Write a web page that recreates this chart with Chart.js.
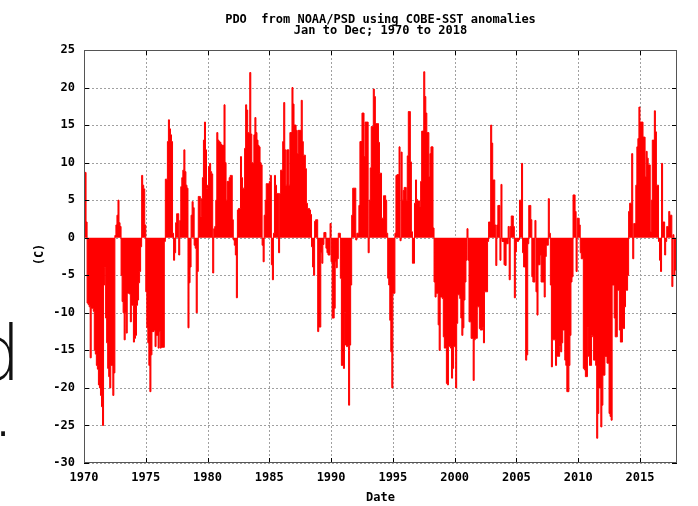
<!DOCTYPE html>
<html>
<head>
<meta charset="utf-8">
<script src="https://cdn.jsdelivr.net/npm/chart.js@4/dist/chart.umd.min.js"></script>
<style>
html,body{margin:0;padding:0;background:#fff;}
#wrap{position:relative;width:698px;height:506px;overflow:hidden;background:#fff;}
canvas{position:absolute;left:0;top:0;}
.bg{position:absolute;font-family:"DejaVu Sans";font-weight:200;color:#111;white-space:nowrap;}
</style>
</head>
<body>
<div id="wrap">
<canvas id="c" width="698" height="506"></canvas>
<span class="bg" style="left:-27px;top:316px;font-size:76px;line-height:76px;">d</span>
<span class="bg" style="left:-9px;top:372px;font-size:76px;line-height:76px;">.</span>
</div>
<script>
// ---- data (monthly PDO values) ----
const startYear = 1970;
const pdo1970s = [8.7,8.7,2.1,-8.7,-8.9,-9.2,-16,-9.4,-9.4,-9.8,-15,-15.5,
 -17,-17.5,-19.6,-20,-21,-22.5,-25,-6.3,-4,-10.7,-14,-17.4,
 -18.5,-20,-17,-17,-21,-18,0.3,1.7,3,5,2,1.5,
 -5,-8.5,-10,-13.6,-10,-12.7,-7.4,-7.4,-7.5,-11.2,-9,-9,
 -13.9,-13.4,-13,-9,-8.3,-6,-4.5,-1.2,8.3,7,6.5,1.7,
 -7.2,-12,-14,-17,-20.5,-15.6,-12.5,-12.5,-12.3,-14.5,-13,-13,
 -14.7,-12.5,-14.7,-14.6,-14.6,-14.6,-0.5,7.8,7.8,12.8,15.7,14.5,
 13.7,12.8,0.6,-3,-2,2,3.2,3.2,-2.3,2.3,6.8,8,
 9,11.7,8.8,7,6.6,-12,-6,-3.9,3,4.8,4,-1,
 -1.4,-10,-4.5,5.5,5.5,2.8,5.2,8,13,15.4,11.7,6.6];
const pdo1980s = [7,9.5,9.9,8.8,8.5,-4.7,1.2,1.5,5,14,13,12.8,
 12.7,12.4,12.3,12.3,17.7,10,5,7.5,7.5,8,8.3,8.3,
 2.4,-0.3,-1,-2.3,-8,3.7,3.9,3.9,10.8,8,6.6,6.6,
 11.9,17.7,17,14,13.9,22,13.8,10,9.9,13.7,16,14,
 13,12.3,12.1,10,9.7,-1,-3.2,3,5,7.2,7.2,7.2,
 7.5,8.3,-3.6,-5.6,0.6,8.3,7,5.9,5.9,-2,5.9,9,
 9,12.8,18,11.7,7,11.7,11.7,7,14,14,20,17.8,
 15,15,14.3,11.2,14.3,14.3,14.3,18.3,12.8,11,11,9.2,
 4.6,3.9,3.9,3.7,3.1,-1.2,-3.9,-5,2.2,2.4,2.4,-12.5,
 -11.9,-11.9,-2,-3.4,-0.9,0.7,0.7,-1.4,-2,-2.3,-2.3,1.9];
const pdo1990s = [-3.2,-10.7,-10.7,-9.4,-3.2,-4,-2.8,0.6,0.6,-5.4,-17,-17,
 -17.4,-10,-14.3,-14.5,-14.5,-22.3,-14.3,-6.3,3,6.6,6.6,6.6,
 -0.3,0.6,0.6,4.3,12.8,12.8,16.6,16.6,10.8,15.4,15.4,15.4,
 -2,5,9.3,14.8,14.8,19.8,18.8,15.2,15.2,15.2,12.7,8.6,
 8.6,2.6,2.6,5.6,5.6,5,0.6,-5.4,-6.3,-11,-15.2,-20,
 -7.4,-7.4,0.6,8.3,8.4,8.4,12.1,-0.4,11.4,5,6.3,6.7,
 6.7,5,10.9,16.8,16.8,10.1,0.8,-3.4,-3.4,4.6,7.7,5.1,
 4.9,4.9,4.1,7.5,14.2,14.2,22.1,18.8,16.6,14,14,8.1,
 11.2,12.1,12.1,1.3,-5.9,-7.9,-7.4,-7.4,-11.6,-15,-7.9,-7.9,
 -8.1,-13.2,-14.7,-14.7,-19.4,-19.6,-14.5,-14.5,-14.7,-18.7,-17.4,-14.5];
const pdo2000s = [-14.5,-20,-11.4,-7.6,-7.6,-8.1,-10.7,-13,-12,-8.3,-5.9,-3,
 1.2,-3,-11.2,-11.2,-13.4,-13.4,-19,-13.6,-13.4,-13.4,-9.2,-9.2,
 -12.1,-12.3,-12.3,-11.9,-14,-7.2,-7.2,-7.2,-0.5,2.1,2.1,15,
 12.6,7.7,7.7,1.7,-3.7,1.7,4.3,4.3,-3,7.1,-0.5,-0.5,
 -3.6,-3.7,-0.8,-0.8,1.5,-5.6,1.5,2.9,2.9,1.5,-8,-1.9,
 -0.5,-0.5,-0.3,5,5,9.9,-2,-3.9,-3.9,-16.3,-15.6,-0.8,
 4.3,4.3,2.4,-5.2,-5.9,-5.9,2.3,-7.2,-10.3,-3.6,-3.6,-2.3,
 -5.9,-5.9,-5.9,-7.9,-2.5,-1,-1,5.2,0.6,-6.3,-17.2,-13.6,
 -13.6,-13.6,-17,-15.8,-15.8,-15.8,-14.5,-15.2,-14,-12.3,-12.3,-16.3,
 -17,-20.5,-20.5,-17,-13,-5.9,-5.2,5.7,5.7,3.5,-4.5,2.6];
const pdo2010s = [2.6,1.7,-2,-2.8,-2.8,-17.4,-17.6,-18.5,-18.5,-11.9,-15.8,-17,
 -17,-13,-13.2,-16.3,-16.3,-17,-26.7,-23.4,-20,-20,-25.2,-22.3,
 -18.3,-18.3,-15.8,-15.8,-16.7,-16.7,-23.4,-23.8,-24.3,-6.3,-6.3,-10.7,
 -13.2,-13.2,-7,-7,-12.3,-13.9,-13.9,-12.1,-12.1,-9.2,-7,-7,
 -5,3.5,4.6,4.6,11.2,-2.8,1.9,1.9,7,12.1,13.2,17.4,
 15.4,15.4,15.4,13.4,13.4,8.1,11.5,10.6,9.7,9.7,0.8,5,
 13,13,16.9,14.1,7,7,-0.5,-3,-4.5,9.9,2.1,2.1,
 -2.3,-0.5,1.5,1.5,3.5,3,3,-6.5,0.4,-5,-4.3,-4.3];
const xTickYears = [1970,1975,1980,1985,1990,1995,2000,2005,2010,2015];
const yTicks = [-30,-25,-20,-15,-10,-5,0,5,10,15,20,25];
const titleLines = ["PDO  from NOAA/PSD using COBE-SST anomalies", "Jan to Dec; 1970 to 2018"];
const xTitle = "Date";
const yTitle = "(C)";

// ---- build points ----
const values = [].concat(pdo1970s, pdo1980s, pdo1990s, pdo2000s, pdo2010s);
const points = values.map((v, i) => ({x: startYear + i / 12, y: v}));
points.push({x: startYear + values.length / 12, y: values[values.length - 1]});

const FONT = '"DejaVu Sans Mono", "Liberation Mono", monospace';

const gridPlugin = {
  id: 'dotGrid',
  beforeDatasetsDraw(chart) {
    const {ctx, chartArea: a, scales: {x, y}} = chart;
    ctx.save();
    ctx.strokeStyle = '#a0a0a0';
    ctx.lineWidth = 1;
    ctx.setLineDash([2, 2]);
    ctx.beginPath();
    yTicks.forEach(v => {
      const py = Math.round(y.getPixelForValue(v)) + 0.5;
      ctx.moveTo(a.left, py); ctx.lineTo(a.right, py);
    });
    xTickYears.forEach(v => {
      const px = Math.round(x.getPixelForValue(v)) + 0.5;
      ctx.moveTo(px, a.top); ctx.lineTo(px, a.bottom);
    });
    ctx.stroke();
    ctx.restore();
  }
};

const framePlugin = {
  id: 'frame',
  afterDraw(chart) {
    const {ctx, chartArea: a, scales: {x, y}} = chart;
    ctx.save();
    ctx.strokeStyle = '#000';
    ctx.lineWidth = 1;
    ctx.beginPath();
    yTicks.forEach(v => {
      const py = Math.round(y.getPixelForValue(v)) + 0.5;
      ctx.moveTo(a.left, py); ctx.lineTo(a.left + 5, py);
      ctx.moveTo(a.right, py); ctx.lineTo(a.right - 5, py);
    });
    xTickYears.forEach(v => {
      const px = Math.round(x.getPixelForValue(v)) + 0.5;
      ctx.moveTo(px, a.top); ctx.lineTo(px, a.top + 5);
      ctx.moveTo(px, a.bottom); ctx.lineTo(px, a.bottom - 5);
    });
    ctx.stroke();
    ctx.strokeStyle = '#555';
    ctx.strokeRect(Math.round(a.left) + 0.5, Math.round(a.top) + 0.5,
                   Math.round(a.right - a.left) - 1, Math.round(a.bottom - a.top) - 1);
    ctx.fillStyle = '#000';
    ctx.font = 'bold 12px ' + FONT;
    ctx.textAlign = 'center';
    ctx.textBaseline = 'alphabetic';
    const cx = (a.left + a.right) / 2;
    ctx.fillText(titleLines[0], cx, 22.5);
    ctx.fillText(titleLines[1], cx, 34);
    ctx.fillText(xTitle, cx, 501);
    ctx.translate(40, (a.top + a.bottom) / 2 - 2);
    ctx.rotate(-Math.PI / 2);
    ctx.textBaseline = 'middle';
    ctx.fillText(yTitle, 0, 0);
    ctx.restore();
  }
};

new Chart(document.getElementById('c'), {
  type: 'line',
  data: {
    datasets: [{
      data: points,
      stepped: 'before',
      fill: 'origin',
      backgroundColor: '#ff0000',
      borderColor: '#ff0000',
      borderWidth: 1,
      pointRadius: 0,
      pointHoverRadius: 0,
      tension: 0
    }]
  },
  options: {
    responsive: false,
    devicePixelRatio: 1,
    animation: false,
    events: [],
    layout: {padding: {left: 0, top: 50, right: 21, bottom: 0}},
    plugins: {legend: {display: false}, tooltip: {enabled: false}, title: {display: false}},
    scales: {
      x: {
        type: 'linear',
        min: 1970, max: 2018,
        grid: {display: false, drawTicks: false},
        border: {display: false},
        afterBuildTicks: s => { s.ticks = xTickYears.map(v => ({value: v})); },
        afterFit: s => { s.height = 43; },
        ticks: {
          autoSkip: false, maxRotation: 0, padding: 8,
          color: '#000',
          font: {family: FONT, size: 12, weight: 'bold'},
          callback: v => String(v)
        }
      },
      y: {
        type: 'linear',
        min: -30, max: 25,
        grid: {display: false, drawTicks: false},
        border: {display: false},
        afterBuildTicks: s => { s.ticks = yTicks.map(v => ({value: v})); },
        afterFit: s => { s.width = 84; },
        ticks: {
          padding: 9,
          color: '#000',
          font: {family: FONT, size: 12, weight: 'bold'},
          callback: v => String(v)
        }
      }
    }
  },
  plugins: [gridPlugin, framePlugin]
});
</script>
</body>
</html>
